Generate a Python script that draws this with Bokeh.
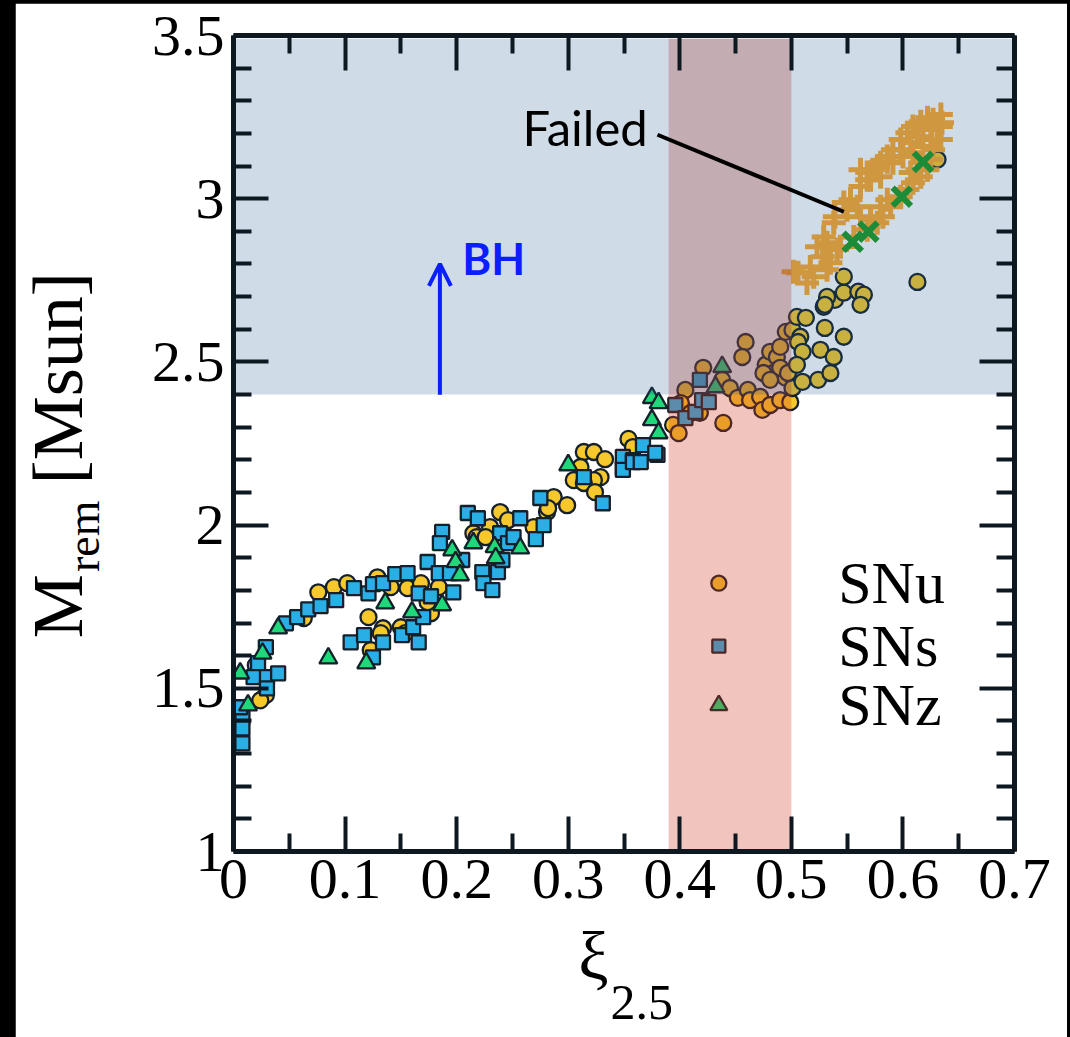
from bokeh.plotting import figure
from bokeh.models import Range1d, FixedTicker, LinearAxis, Label, Arrow, OpenHead
from bokeh.embed import file_html
from bokeh.resources import INLINE
from bokeh.core.properties import value

# ---------------- data ----------------
snu_x = [0.076, 0.090, 0.102, 0.129, 0.156, 0.168, 0.184, 0.121, 0.134, 0.132, 0.123, 0.150, 0.177, 0.174, 0.141, 0.020, 0.029, 0.024, 0.063, 0.154,
         0.215, 0.218, 0.230, 0.239, 0.246, 0.226, 0.269, 0.281, 0.287, 0.299, 0.282,
         0.314, 0.323, 0.333, 0.311, 0.305, 0.329, 0.323, 0.314, 0.324, 0.354, 0.358,
         0.421, 0.405, 0.401, 0.394, 0.399, 0.410, 0.418, 0.439, 0.438, 0.445, 0.452, 0.461, 0.463, 0.472, 0.474, 0.481, 0.490, 0.499,
         0.459, 0.456, 0.477, 0.481, 0.487, 0.490, 0.495, 0.484, 0.475, 0.495, 0.490, 0.481, 0.501, 0.497,
         0.501, 0.508, 0.505, 0.513, 0.506, 0.510, 0.505, 0.510, 0.526, 0.538, 0.524, 0.535, 0.530, 0.547, 0.529, 0.539, 0.547, 0.560, 0.565, 0.562,
         0.547, 0.532, 0.530, 0.613, 0.631]
snu_y = [1.794, 1.810, 1.822, 1.840, 1.807, 1.822, 1.810, 1.718, 1.684, 1.669, 1.617, 1.687, 1.730, 1.764, 1.810, 1.571, 1.479, 1.463, 1.715, 1.669,
         1.975, 1.963, 1.994, 2.040, 2.015, 1.963, 1.994, 2.040, 2.086, 2.061, 2.052,
         2.224, 2.224, 2.202, 2.178, 2.138, 2.147, 2.138, 2.129, 2.101, 2.264, 2.239,
         2.482, 2.414, 2.374, 2.307, 2.282, 2.344, 2.344, 2.313, 2.445, 2.420, 2.390, 2.414, 2.383, 2.393, 2.353, 2.368, 2.383, 2.377,
         2.561, 2.515, 2.491, 2.531, 2.515, 2.546, 2.592, 2.466, 2.466, 2.451, 2.482, 2.445, 2.420, 2.466,
         2.598, 2.577, 2.638, 2.635, 2.561, 2.531, 2.491, 2.439, 2.537, 2.515, 2.445, 2.466, 2.604, 2.577, 2.669, 2.690, 2.712, 2.715, 2.706, 2.675,
         2.761, 2.699, 2.675, 2.745, 3.120]

sns_x = [0.029, 0.022, 0.018, 0.030, 0.040, 0.030, 0.008, 0.047, 0.057, 0.067, 0.078, 0.092, 0.108, 0.121, 0.125, 0.134, 0.145, 0.156, 0.166, 0.177,
         0.105, 0.117, 0.134, 0.125, 0.151, 0.161, 0.166, 0.170, 0.174, 0.184, 0.187, 0.185, 0.197, 0.194, 0.205, 0.210, 0.219, 0.223, 0.224, 0.232,
         0.237, 0.241, 0.239, 0.246, 0.251, 0.257, 0.271, 0.275, 0.278, 0.314, 0.331, 0.349, 0.349, 0.358, 0.367, 0.380,
         0.008, 0.008, 0.006, 0.396, 0.405, 0.414, 0.418, 0.420, 0.426, 0.378, 0.349, 0.358, 0.365]
sns_y = [1.626, 1.577, 1.534, 1.534, 1.546, 1.500, 1.411, 1.699, 1.718, 1.742, 1.752, 1.770, 1.807, 1.791, 1.819, 1.822, 1.850, 1.853, 1.791, 1.782,
         1.641, 1.663, 1.641, 1.595, 1.663, 1.687, 1.641, 1.718, 1.887, 1.853, 1.979, 1.945, 1.794, 1.853, 1.893, 2.037, 2.021, 1.856, 1.822, 1.801,
         1.856, 1.893, 1.975, 1.945, 1.963, 2.021, 1.957, 2.083, 2.000, 2.147, 2.067, 2.175, 2.209, 2.199, 2.245, 2.215,
         1.377, 1.331, 1.442, 2.368, 2.328, 2.347, 2.445, 2.383, 2.377, 2.221, 2.169, 2.193, 2.193]

snz_x = [0.006, 0.013, 0.026, 0.040, 0.085, 0.119, 0.136, 0.160, 0.187, 0.196, 0.199, 0.203, 0.215, 0.234, 0.235, 0.257, 0.300, 0.375, 0.381, 0.375, 0.381, 0.438, 0.432]
snz_y = [1.546, 1.448, 1.607, 1.684, 1.592, 1.577, 1.761, 1.733, 1.755, 1.923, 1.887, 1.847, 1.945, 1.933, 1.899, 1.929, 2.184, 2.390, 2.374, 2.322, 2.282, 2.485, 2.423]

failed_x = [0.506, 0.517, 0.514, 0.528, 0.535, 0.541, 0.529, 0.538, 0.547, 0.553, 0.562, 0.568, 0.573, 0.580, 0.586, 0.591, 0.598, 0.604, 0.609, 0.616, 0.622, 0.627, 0.634, 0.634, 0.631, 0.627, 0.634,
            0.544, 0.556, 0.568, 0.577, 0.582, 0.589, 0.598, 0.604, 0.609, 0.616, 0.622, 0.625, 0.613, 0.607,
            0.568, 0.577, 0.586, 0.598, 0.607, 0.613, 0.562, 0.571, 0.580, 0.591, 0.600, 0.609, 0.618, 0.625, 0.618, 0.626, 0.635,
            0.520, 0.502, 0.532, 0.523, 0.532, 0.539, 0.550, 0.559, 0.562, 0.571, 0.580, 0.586]
failed_y = [2.773, 2.791, 2.742, 2.822, 2.804, 2.844, 2.883, 2.926, 2.988, 2.997, 3.037, 3.058, 3.089, 3.110, 3.129, 3.150, 3.181, 3.202, 3.221, 3.236, 3.248, 3.242, 3.258, 3.221, 3.181, 3.150, 3.181,
            2.853, 2.883, 2.905, 2.926, 2.945, 2.975, 3.006, 3.028, 3.049, 3.067, 3.089, 3.120, 3.089, 3.080,
            3.080, 3.098, 3.113, 3.150, 3.172, 3.190, 3.089, 3.058, 3.067, 3.110, 3.129, 3.141, 3.160, 3.181, 3.212, 3.212, 3.233,
            2.761, 2.776, 2.782, 2.853, 2.865, 2.945, 2.966, 2.975, 2.945, 2.936, 2.975, 2.997]

failed_z_x = [0.555, 0.569, 0.599, 0.618]
failed_z_y = [2.868, 2.899, 3.006, 3.113]

x_ticks = [0.0, 0.1, 0.2, 0.3, 0.4, 0.5, 0.6, 0.7]
x_tick_labels = ["0", "0.1", "0.2", "0.3", "0.4", "0.5", "0.6", "0.7"]
x_minor = [0.05, 0.15, 0.25, 0.35, 0.45, 0.55, 0.65]
y_ticks = [1.0, 1.5, 2.0, 2.5, 3.0, 3.5]
y_tick_labels = ["1", "1.5", "2", "2.5", "3", "3.5"]
y_minor = [1.1, 1.2, 1.3, 1.4, 1.6, 1.7, 1.8, 1.9, 2.1, 2.2, 2.3, 2.4, 2.6, 2.7, 2.8, 2.9, 3.1, 3.2, 3.3, 3.4]

legend_labels = ["SNu", "SNs", "SNz"]

bh_band = (0.0, 0.7, 2.4, 3.49)       # left, right, bottom, top
xi_band = (0.39, 0.50, 1.0, 3.49)

# ---------------- style ----------------
C_SNU = "#f6c82c"
C_SNS = "#2aaee6"
C_SNZ = "#1fd87a"
C_FAIL = "#ffa829"
C_FAILZ = "#1c9a22"
EDGE = "#15202a"
AX = "#0e1820"
BLUE = "#0a1eff"
SERIF = "Liberation Serif"
NBSP = "\u00a0"

p = figure(width=1052, height=1034,
           x_range=Range1d(0, 0.7), y_range=Range1d(1, 3.5),
           output_backend="svg", toolbar_location=None,
           min_border_left=218, min_border_right=53,
           min_border_top=32, min_border_bottom=186,
           background_fill_color="white", border_fill_color="white",
           outline_line_color=None)
p.grid.visible = False

xt = FixedTicker(ticks=x_ticks, minor_ticks=x_minor)
yt = FixedTicker(ticks=y_ticks, minor_ticks=y_minor)


def style_axis(ax, labels):
    ax.axis_line_width = 5
    ax.axis_line_color = AX
    ax.major_tick_line_width = 4
    ax.minor_tick_line_width = 4
    ax.major_tick_line_color = AX
    ax.minor_tick_line_color = AX
    ax.major_tick_in = 35
    ax.major_tick_out = 0
    ax.minor_tick_in = 18
    ax.minor_tick_out = 0
    ax.major_label_text_font = SERIF
    ax.major_label_text_color = "black"
    ax.major_label_text_font_size = "58px"
    ax.major_label_overrides = labels


xa = p.xaxis[0]
xa.ticker = xt
style_axis(xa, dict(zip(x_ticks, x_tick_labels)))
xa.major_label_standoff = 8
ya = p.yaxis[0]
ya.ticker = yt
style_axis(ya, dict(zip(y_ticks, y_tick_labels)))
ya.major_label_standoff = 9

top = LinearAxis(ticker=xt)
style_axis(top, {t: "" for t in x_ticks})
top.major_label_text_font_size = "1px"
top.major_label_standoff = 0
p.add_layout(top, "above")
right = LinearAxis(ticker=yt)
style_axis(right, {t: "" for t in y_ticks})
right.major_label_text_font_size = "1px"
right.major_label_standoff = 0
p.add_layout(right, "right")

# ---------------- markers ----------------
p.scatter(snu_x, snu_y, marker="circle", size=16, fill_color=C_SNU, line_color=EDGE, line_width=2.3)
p.scatter(sns_x, sns_y, marker="square", size=14, fill_color=C_SNS, line_color=EDGE, line_width=2.3)
p.scatter(snz_x, snz_y, marker="triangle", size=18, fill_color=C_SNZ, line_color=EDGE, line_width=2.3)
p.scatter(failed_x, failed_y, marker="cross", size=24, line_color=C_FAIL, line_width=5)
p.scatter(failed_z_x, failed_z_y, marker="x", size=26, line_color=C_FAILZ, line_width=6)

# legend (drawn manually, under the shading like the original)
leg_x = [0.435, 0.435, 0.435]
leg_y = [1.822, 1.629, 1.448]
p.scatter(leg_x[0:1], leg_y[0:1], marker="circle", size=15, fill_color=C_SNU, line_color=EDGE, line_width=2.3)
p.scatter(leg_x[1:2], leg_y[1:2], marker="square", size=13, fill_color=C_SNS, line_color=EDGE, line_width=2.3)
p.scatter(leg_x[2:3], leg_y[2:3], marker="triangle", size=17, fill_color=C_SNZ, line_color=EDGE, line_width=2.3)
p.text(x=[0.542, 0.542, 0.542], y=leg_y, text=legend_labels,
       text_font=value(SERIF), text_font_size="60px", text_color="black",
       text_baseline="middle", text_align="left")

# ---------------- shaded regions (over the markers) ----------------
p.quad(left=[xi_band[0]], right=[xi_band[1]], bottom=[xi_band[2]], top=[xi_band[3]],
       fill_color="#d03a26", fill_alpha=0.30, line_color=None)
p.quad(left=[bh_band[0]], right=[bh_band[1]], bottom=[bh_band[2]], top=[bh_band[3]],
       fill_color="#255b8d", fill_alpha=0.22, line_color=None)

# ---------------- annotations ----------------
p.segment(x0=[0.380], y0=[3.196], x1=[0.547], y1=[2.960], line_width=4, line_color="black")
p.add_layout(Label(x=0.259, y=3.219, text="Failed", text_font="Lato", text_font_size="49px",
                   text_color="black", text_baseline="middle", text_align="left"))
p.add_layout(Label(x=0.205, y=2.817, text="BH", text_font="Lato", text_font_style="bold",
                   text_font_size="44px", text_color=BLUE, text_baseline="middle", text_align="left"))
p.add_layout(Arrow(end=OpenHead(size=22, line_color=BLUE, line_width=4),
                   x_start=0.185, y_start=2.399, x_end=0.185, y_end=2.80,
                   line_color=BLUE, line_width=4))

# axis titles (placed in the side panels so they are not clipped by the frame)
ANG = 1.5707963
p.add_layout(Label(x=-0.1577, y=1.653, text="M" + NBSP * 5 + "[Msun]", angle=ANG, text_font=SERIF,
                   text_font_size="72px", text_baseline="middle", text_align="left", text_color="black"), "left")
p.add_layout(Label(x=-0.1344, y=1.856, text="rem", angle=ANG, text_font=SERIF, text_font_size="46px",
                   text_baseline="middle", text_align="left", text_color="black"), "left")
p.add_layout(Label(x=0.309, y=0.681, text="ξ", text_font=SERIF, text_font_size="68px",
                   text_baseline="middle", text_align="left", text_color="black"), "below")
p.add_layout(Label(x=0.338, y=0.537, text="2.5", text_font=SERIF, text_font_size="50px",
                   text_baseline="middle", text_align="left", text_color="black"), "below")

html = file_html(p, INLINE)
html = html.replace("</head>", "<style>html,body{margin:0;background:#000;overflow:hidden;}"
                    "body{box-sizing:border-box;width:1070px;height:1037px;padding:3px 0 0 15px;}</style></head>", 1)
open("out.html", "w").write(html)
